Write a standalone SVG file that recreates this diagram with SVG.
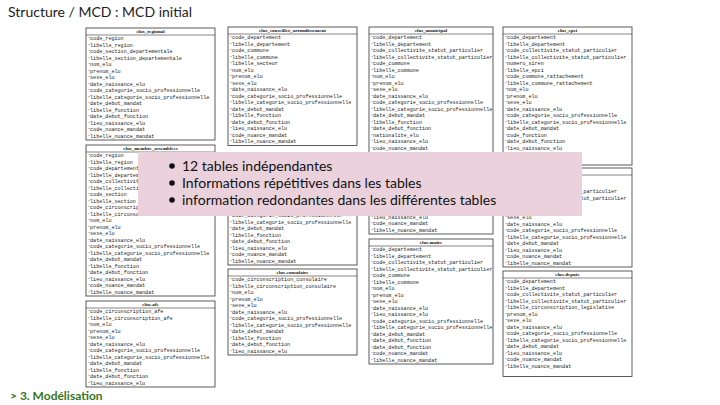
<svg xmlns="http://www.w3.org/2000/svg" width="720" height="405" viewBox="0 0 720 405">
<style>
.bg{fill:#ffffff}
.box{fill:#ffffff;stroke:#333333;stroke-width:0.8}
.sep{stroke:#333333;stroke-width:0.6}
.hd{font-family:'Liberation Serif','Times New Roman',serif;font-weight:bold;font-size:5px;fill:#111;text-anchor:middle}
.r{font-family:'Liberation Mono','Courier New',monospace;font-size:5.1px;fill:#222}
.k{font-size:3.4px}
.title{font-family:Lato,'Liberation Sans',sans-serif;font-size:14px;fill:#222}
.foot{font-family:Lato,'Liberation Sans',sans-serif;font-size:12px;font-weight:bold;fill:#38761d}
.ov{fill:#ead1dc}
.bt{font-family:Lato,'Liberation Sans',sans-serif;font-size:14px;fill:#111}
</style>
<defs>
<clipPath id="leftOfOverlay"><rect x="-5" y="0" width="57" height="160"/></clipPath>
</defs>
<rect class="bg" x="0" y="0" width="720" height="405"/>
<text class="title" x="8" y="17">Structure / MCD : MCD initial</text>

<!-- Column 1 -->
<g id="elus_regional" transform="translate(86,28)">
<rect class="box" width="129" height="112"/><line class="sep" x1="0" y1="7" x2="129" y2="7"/>
<text class="hd" x="64.5" y="5.3">elus_regional</text>
<text class="r" x="2" y="12"><tspan class="k">*</tspan>code_region</text>
<text class="r" x="2" y="18.5"><tspan class="k">*</tspan>libelle_region</text>
<text class="r" x="2" y="25"><tspan class="k">*</tspan>code_section_departementale</text>
<text class="r" x="2" y="31.5"><tspan class="k">*</tspan>libelle_section_departementale</text>
<text class="r" x="2" y="38"><tspan class="k">*</tspan>nom_elu</text>
<text class="r" x="2" y="44.5"><tspan class="k">*</tspan>prenom_elu</text>
<text class="r" x="2" y="51"><tspan class="k">*</tspan>sexe_elu</text>
<text class="r" x="2" y="57.5"><tspan class="k">*</tspan>date_naissance_elu</text>
<text class="r" x="2" y="64"><tspan class="k">*</tspan>code_categorie_socio_professionnelle</text>
<text class="r" x="2" y="70.5"><tspan class="k">*</tspan>libelle_categorie_socio_professionnelle</text>
<text class="r" x="2" y="77"><tspan class="k">*</tspan>date_debut_mandat</text>
<text class="r" x="2" y="83.5"><tspan class="k">*</tspan>libelle_fonction</text>
<text class="r" x="2" y="90"><tspan class="k">*</tspan>date_debut_fonction</text>
<text class="r" x="2" y="96.5"><tspan class="k">*</tspan>lieu_naissance_elu</text>
<text class="r" x="2" y="103"><tspan class="k">*</tspan>code_nuance_mandat</text>
<text class="r" x="2" y="109.5"><tspan class="k">*</tspan>libelle_nuance_mandat</text>
</g>

<g id="elus_membre_assemblees" transform="translate(86,145)">
<rect class="box" width="129" height="151"/><line class="sep" x1="0" y1="7" x2="129" y2="7"/>
<text class="hd" x="64.5" y="5.3">elus_membre_assemblees</text>
<text class="r" x="2" y="12"><tspan class="k">*</tspan>code_region</text>
<text class="r" x="2" y="18.5"><tspan class="k">*</tspan>libelle_region</text>
<g clip-path="url(#leftOfOverlay)">
<text class="r" x="2" y="25"><tspan class="k">*</tspan>code_departement</text>
<text class="r" x="2" y="31.5"><tspan class="k">*</tspan>libelle_departement</text>
<text class="r" x="2" y="38"><tspan class="k">*</tspan>code_collectivite_statut_particulier</text>
<text class="r" x="2" y="44.5"><tspan class="k">*</tspan>libelle_collectivite_statut_particulier</text>
<text class="r" x="2" y="51"><tspan class="k">*</tspan>code_section</text>
<text class="r" x="2" y="57.5"><tspan class="k">*</tspan>libelle_section</text>
<text class="r" x="2" y="64"><tspan class="k">*</tspan>code_circonscription</text>
<text class="r" x="2" y="70.5"><tspan class="k">*</tspan>libelle_circonscription</text>
</g>
<text class="r" x="2" y="77"><tspan class="k">*</tspan>nom_elu</text>
<text class="r" x="2" y="83.5"><tspan class="k">*</tspan>prenom_elu</text>
<text class="r" x="2" y="90"><tspan class="k">*</tspan>sexe_elu</text>
<text class="r" x="2" y="96.5"><tspan class="k">*</tspan>date_naissance_elu</text>
<text class="r" x="2" y="103"><tspan class="k">*</tspan>code_categorie_socio_professionnelle</text>
<text class="r" x="2" y="109.5"><tspan class="k">*</tspan>libelle_categorie_socio_professionnelle</text>
<text class="r" x="2" y="116"><tspan class="k">*</tspan>date_debut_mandat</text>
<text class="r" x="2" y="122.5"><tspan class="k">*</tspan>libelle_fonction</text>
<text class="r" x="2" y="129"><tspan class="k">*</tspan>date_debut_fonction</text>
<text class="r" x="2" y="135.5"><tspan class="k">*</tspan>lieu_naissance_elu</text>
<text class="r" x="2" y="142"><tspan class="k">*</tspan>code_nuance_mandat</text>
<text class="r" x="2" y="148.5"><tspan class="k">*</tspan>libelle_nuance_mandat</text>
</g>

<g id="elus_afe" transform="translate(86,301)">
<rect class="box" width="129" height="86"/><line class="sep" x1="0" y1="7" x2="129" y2="7"/>
<text class="hd" x="64.5" y="5.3">elus-afe</text>
<text class="r" x="2" y="12"><tspan class="k">*</tspan>code_circonscription_afe</text>
<text class="r" x="2" y="18.5"><tspan class="k">*</tspan>libelle_circonscription_afe</text>
<text class="r" x="2" y="25"><tspan class="k">*</tspan>nom_elu</text>
<text class="r" x="2" y="31.5"><tspan class="k">*</tspan>prenom_elu</text>
<text class="r" x="2" y="38"><tspan class="k">*</tspan>sexe_elu</text>
<text class="r" x="2" y="44.5"><tspan class="k">*</tspan>date_naissance_elu</text>
<text class="r" x="2" y="51"><tspan class="k">*</tspan>code_categorie_socio_professionnelle</text>
<text class="r" x="2" y="57.5"><tspan class="k">*</tspan>libelle_categorie_socio_professionnelle</text>
<text class="r" x="2" y="64"><tspan class="k">*</tspan>date_debut_mandat</text>
<text class="r" x="2" y="70.5"><tspan class="k">*</tspan>libelle_fonction</text>
<text class="r" x="2" y="77"><tspan class="k">*</tspan>date_debut_fonction</text>
<text class="r" x="2" y="83.5"><tspan class="k">*</tspan>lieu_naissance_elu</text>
</g>

<!-- Column 2 -->
<g id="elus_conseiller_arrondissement" transform="translate(228,27)">
<rect class="box" width="129" height="118.5"/><line class="sep" x1="0" y1="7" x2="129" y2="7"/>
<text class="hd" x="64.5" y="5.3">elus_conseiller_arrondissement</text>
<text class="r" x="2" y="12"><tspan class="k">*</tspan>code_departement</text>
<text class="r" x="2" y="18.5"><tspan class="k">*</tspan>libelle_departement</text>
<text class="r" x="2" y="25"><tspan class="k">*</tspan>code_commune</text>
<text class="r" x="2" y="31.5"><tspan class="k">*</tspan>libelle_commune</text>
<text class="r" x="2" y="38"><tspan class="k">*</tspan>libelle_secteur</text>
<text class="r" x="2" y="44.5"><tspan class="k">*</tspan>nom_elu</text>
<text class="r" x="2" y="51"><tspan class="k">*</tspan>prenom_elu</text>
<text class="r" x="2" y="57.5"><tspan class="k">*</tspan>sexe_elu</text>
<text class="r" x="2" y="64"><tspan class="k">*</tspan>date_naissance_elu</text>
<text class="r" x="2" y="70.5"><tspan class="k">*</tspan>code_categorie_socio_professionnelle</text>
<text class="r" x="2" y="77"><tspan class="k">*</tspan>libelle_categorie_socio_professionnelle</text>
<text class="r" x="2" y="83.5"><tspan class="k">*</tspan>date_debut_mandat</text>
<text class="r" x="2" y="90"><tspan class="k">*</tspan>libelle_fonction</text>
<text class="r" x="2" y="96.5"><tspan class="k">*</tspan>date_debut_fonction</text>
<text class="r" x="2" y="103"><tspan class="k">*</tspan>lieu_naissance_elu</text>
<text class="r" x="2" y="109.5"><tspan class="k">*</tspan>code_nuance_mandat</text>
<text class="r" x="2" y="116"><tspan class="k">*</tspan>libelle_nuance_mandat</text>
</g>

<g id="elus_table_col2_hidden" transform="translate(228,153)">
<rect class="box" width="129" height="112"/><line class="sep" x1="0" y1="7" x2="129" y2="7"/>
<text class="r" x="2" y="64"><tspan class="k">*</tspan>code_categorie_socio_professionnelle</text>
<text class="r" x="2" y="70.5"><tspan class="k">*</tspan>libelle_categorie_socio_professionnelle</text>
<text class="r" x="2" y="77"><tspan class="k">*</tspan>date_debut_mandat</text>
<text class="r" x="2" y="83.5"><tspan class="k">*</tspan>libelle_fonction</text>
<text class="r" x="2" y="90"><tspan class="k">*</tspan>date_debut_fonction</text>
<text class="r" x="2" y="96.5"><tspan class="k">*</tspan>lieu_naissance_elu</text>
<text class="r" x="2" y="103"><tspan class="k">*</tspan>code_nuance_mandat</text>
<text class="r" x="2" y="109.5"><tspan class="k">*</tspan>libelle_nuance_mandat</text>
</g>

<g id="elus_consulaire" transform="translate(228,269)">
<rect class="box" width="129" height="86"/><line class="sep" x1="0" y1="7" x2="129" y2="7"/>
<text class="hd" x="64.5" y="5.3">elus-consulaire</text>
<text class="r" x="2" y="12"><tspan class="k">*</tspan>code_circonscription_consulaire</text>
<text class="r" x="2" y="18.5"><tspan class="k">*</tspan>libelle_circonscription_consulaire</text>
<text class="r" x="2" y="25"><tspan class="k">*</tspan>nom_elu</text>
<text class="r" x="2" y="31.5"><tspan class="k">*</tspan>prenom_elu</text>
<text class="r" x="2" y="38"><tspan class="k">*</tspan>sexe_elu</text>
<text class="r" x="2" y="44.5"><tspan class="k">*</tspan>date_naissance_elu</text>
<text class="r" x="2" y="51"><tspan class="k">*</tspan>code_categorie_socio_professionnelle</text>
<text class="r" x="2" y="57.5"><tspan class="k">*</tspan>libelle_categorie_socio_professionnelle</text>
<text class="r" x="2" y="64"><tspan class="k">*</tspan>date_debut_mandat</text>
<text class="r" x="2" y="70.5"><tspan class="k">*</tspan>libelle_fonction</text>
<text class="r" x="2" y="77"><tspan class="k">*</tspan>date_debut_fonction</text>
<text class="r" x="2" y="83.5"><tspan class="k">*</tspan>lieu_naissance_elu</text>
</g>

<!-- Column 3 -->
<g id="elus_municipal" transform="translate(369,27)">
<rect class="box" width="124" height="131.5"/><line class="sep" x1="0" y1="7" x2="124" y2="7"/>
<text class="hd" x="62" y="5.3">elus_municipal</text>
<text class="r" x="2" y="12"><tspan class="k">*</tspan>code_departement</text>
<text class="r" x="2" y="18.5"><tspan class="k">*</tspan>libelle_departement</text>
<text class="r" x="2" y="25"><tspan class="k">*</tspan>code_collectivite_statut_particulier</text>
<text class="r" x="2" y="31.5"><tspan class="k">*</tspan>libelle_collectivite_statut_particulier</text>
<text class="r" x="2" y="38"><tspan class="k">*</tspan>code_commune</text>
<text class="r" x="2" y="44.5"><tspan class="k">*</tspan>libelle_commune</text>
<text class="r" x="2" y="51"><tspan class="k">*</tspan>nom_elu</text>
<text class="r" x="2" y="57.5"><tspan class="k">*</tspan>prenom_elu</text>
<text class="r" x="2" y="64"><tspan class="k">*</tspan>sexe_elu</text>
<text class="r" x="2" y="70.5"><tspan class="k">*</tspan>date_naissance_elu</text>
<text class="r" x="2" y="77"><tspan class="k">*</tspan>code_categorie_socio_professionnelle</text>
<text class="r" x="2" y="83.5"><tspan class="k">*</tspan>libelle_categorie_socio_professionnelle</text>
<text class="r" x="2" y="90"><tspan class="k">*</tspan>date_debut_mandat</text>
<text class="r" x="2" y="96.5"><tspan class="k">*</tspan>libelle_fonction</text>
<text class="r" x="2" y="103"><tspan class="k">*</tspan>date_debut_fonction</text>
<text class="r" x="2" y="109.5"><tspan class="k">*</tspan>nationalite_elu</text>
<text class="r" x="2" y="116"><tspan class="k">*</tspan>lieu_naissance_elu</text>
<text class="r" x="2" y="122.5"><tspan class="k">*</tspan>code_nuance_mandat</text>
<text class="r" x="2" y="129"><tspan class="k">*</tspan>libelle_nuance_mandat</text>
</g>

<g id="elus_table_col3_hidden" transform="translate(369,161)">
<rect class="box" width="124" height="73"/><line class="sep" x1="0" y1="7" x2="124" y2="7"/>
<text class="r" x="2" y="57.5"><tspan class="k">*</tspan>lieu_naissance_elu</text>
<text class="r" x="2" y="64"><tspan class="k">*</tspan>code_nuance_mandat</text>
<text class="r" x="2" y="70.5"><tspan class="k">*</tspan>libelle_nuance_mandat</text>
</g>

<g id="elus_maire" transform="translate(369,239)">
<rect class="box" width="124" height="125"/><line class="sep" x1="0" y1="7" x2="124" y2="7"/>
<text class="hd" x="62" y="5.3">elus-maire</text>
<text class="r" x="2" y="12"><tspan class="k">*</tspan>code_departement</text>
<text class="r" x="2" y="18.5"><tspan class="k">*</tspan>libelle_departement</text>
<text class="r" x="2" y="25"><tspan class="k">*</tspan>code_collectivite_statut_particulier</text>
<text class="r" x="2" y="31.5"><tspan class="k">*</tspan>libelle_collectivite_statut_particulier</text>
<text class="r" x="2" y="38"><tspan class="k">*</tspan>code_commune</text>
<text class="r" x="2" y="44.5"><tspan class="k">*</tspan>libelle_commune</text>
<text class="r" x="2" y="51"><tspan class="k">*</tspan>nom_elu</text>
<text class="r" x="2" y="57.5"><tspan class="k">*</tspan>prenom_elu</text>
<text class="r" x="2" y="64"><tspan class="k">*</tspan>sexe_elu</text>
<text class="r" x="2" y="70.5"><tspan class="k">*</tspan>date_naissance_elu</text>
<text class="r" x="2" y="77"><tspan class="k">*</tspan>lieu_naissance_elu</text>
<text class="r" x="2" y="83.5"><tspan class="k">*</tspan>code_categorie_socio_professionnelle</text>
<text class="r" x="2" y="90"><tspan class="k">*</tspan>libelle_categorie_socio_professionnelle</text>
<text class="r" x="2" y="96.5"><tspan class="k">*</tspan>date_debut_mandat</text>
<text class="r" x="2" y="103"><tspan class="k">*</tspan>date_debut_fonction</text>
<text class="r" x="2" y="109.5"><tspan class="k">*</tspan>date_debut_fonction</text>
<text class="r" x="2" y="116"><tspan class="k">*</tspan>code_nuance_mandat</text>
<text class="r" x="2" y="122.5"><tspan class="k">*</tspan>libelle_nuance_mandat</text>
</g>

<!-- Column 4 -->
<g id="elus_epci" transform="translate(503,27)">
<rect class="box" width="129" height="138"/><line class="sep" x1="0" y1="7" x2="129" y2="7"/>
<text class="hd" x="64.5" y="5.3">elus_epci</text>
<text class="r" x="2" y="12"><tspan class="k">*</tspan>code_departement</text>
<text class="r" x="2" y="18.5"><tspan class="k">*</tspan>libelle_departement</text>
<text class="r" x="2" y="25"><tspan class="k">*</tspan>code_collectivite_statut_particulier</text>
<text class="r" x="2" y="31.5"><tspan class="k">*</tspan>libelle_collectivite_statut_particulier</text>
<text class="r" x="2" y="38"><tspan class="k">*</tspan>numero_siren</text>
<text class="r" x="2" y="44.5"><tspan class="k">*</tspan>libelle_epci</text>
<text class="r" x="2" y="51"><tspan class="k">*</tspan>code_commune_rattachement</text>
<text class="r" x="2" y="57.5"><tspan class="k">*</tspan>libelle_commune_rattachement</text>
<text class="r" x="2" y="64"><tspan class="k">*</tspan>nom_elu</text>
<text class="r" x="2" y="70.5"><tspan class="k">*</tspan>prenom_elu</text>
<text class="r" x="2" y="77"><tspan class="k">*</tspan>sexe_elu</text>
<text class="r" x="2" y="83.5"><tspan class="k">*</tspan>date_naissance_elu</text>
<text class="r" x="2" y="90"><tspan class="k">*</tspan>code_categorie_socio_professionnelle</text>
<text class="r" x="2" y="96.5"><tspan class="k">*</tspan>libelle_categorie_socio_professionnelle</text>
<text class="r" x="2" y="103"><tspan class="k">*</tspan>date_debut_mandat</text>
<text class="r" x="2" y="109.5"><tspan class="k">*</tspan>code_fonction</text>
<text class="r" x="2" y="116"><tspan class="k">*</tspan>date_debut_fonction</text>
<text class="r" x="2" y="122.5"><tspan class="k">*</tspan>lieu_naissance_elu</text>
<text class="r" x="2" y="129"><tspan class="k">*</tspan>code_nuance_mandat</text>
</g>

<g id="elus_senateur" transform="translate(503,168)">
<rect class="box" width="129" height="99"/><line class="sep" x1="0" y1="7" x2="129" y2="7"/>
<text class="hd" x="64.5" y="5.3">elus_senateur</text>
<text class="r" x="2" y="25"><tspan class="k">*</tspan>code_collectivite_statut_particulier</text>
<text class="r" x="2" y="31.5"><tspan class="k">*</tspan>libelle_collectivite_statut_particulier</text>
<text class="r" x="2" y="51"><tspan class="k">*</tspan>sexe_elu</text>
<text class="r" x="2" y="57.5"><tspan class="k">*</tspan>date_naissance_elu</text>
<text class="r" x="2" y="64"><tspan class="k">*</tspan>code_categorie_socio_professionnelle</text>
<text class="r" x="2" y="70.5"><tspan class="k">*</tspan>libelle_categorie_socio_professionnelle</text>
<text class="r" x="2" y="77"><tspan class="k">*</tspan>date_debut_mandat</text>
<text class="r" x="2" y="83.5"><tspan class="k">*</tspan>lieu_naissance_elu</text>
<text class="r" x="2" y="90"><tspan class="k">*</tspan>code_nuance_mandat</text>
<text class="r" x="2" y="96.5"><tspan class="k">*</tspan>libelle_nuance_mandat</text>
</g>

<g id="elus_depute" transform="translate(503,271)">
<rect class="box" width="129" height="105.5"/><line class="sep" x1="0" y1="7" x2="129" y2="7"/>
<text class="hd" x="64.5" y="5.3">elus-depute</text>
<text class="r" x="2" y="12"><tspan class="k">*</tspan>code_departement</text>
<text class="r" x="2" y="18.5"><tspan class="k">*</tspan>libelle_departement</text>
<text class="r" x="2" y="25"><tspan class="k">*</tspan>code_collectivite_statut_particulier</text>
<text class="r" x="2" y="31.5"><tspan class="k">*</tspan>libelle_collectivite_statut_particulier</text>
<text class="r" x="2" y="38"><tspan class="k">*</tspan>libelle_circonscription_legislative</text>
<text class="r" x="2" y="44.5"><tspan class="k">*</tspan>prenom_elu</text>
<text class="r" x="2" y="51"><tspan class="k">*</tspan>sexe_elu</text>
<text class="r" x="2" y="57.5"><tspan class="k">*</tspan>date_naissance_elu</text>
<text class="r" x="2" y="64"><tspan class="k">*</tspan>code_categorie_socio_professionnelle</text>
<text class="r" x="2" y="70.5"><tspan class="k">*</tspan>libelle_categorie_socio_professionnelle</text>
<text class="r" x="2" y="77"><tspan class="k">*</tspan>date_debut_mandat</text>
<text class="r" x="2" y="83.5"><tspan class="k">*</tspan>lieu_naissance_elu</text>
<text class="r" x="2" y="90"><tspan class="k">*</tspan>code_nuance_mandat</text>
<text class="r" x="2" y="96.5"><tspan class="k">*</tspan>libelle_nuance_mandat</text>
</g>

<g id="connectors"></g>

<!-- Overlay callout -->
<g id="callout">
<rect class="ov" x="138" y="152" width="444" height="64"/>
<circle cx="172" cy="166" r="2.8" fill="#111"/>
<circle cx="172" cy="183" r="2.8" fill="#111"/>
<circle cx="172" cy="200" r="2.8" fill="#111"/>
<text class="bt" x="182" y="171">12 tables indépendantes</text>
<text class="bt" x="182" y="188">Informations répétitives dans les tables</text>
<text class="bt" x="182" y="205">information redondantes dans les différentes tables</text>
</g>

<text class="foot" x="10" y="400">&gt; 3. Modélisation</text>
</svg>
